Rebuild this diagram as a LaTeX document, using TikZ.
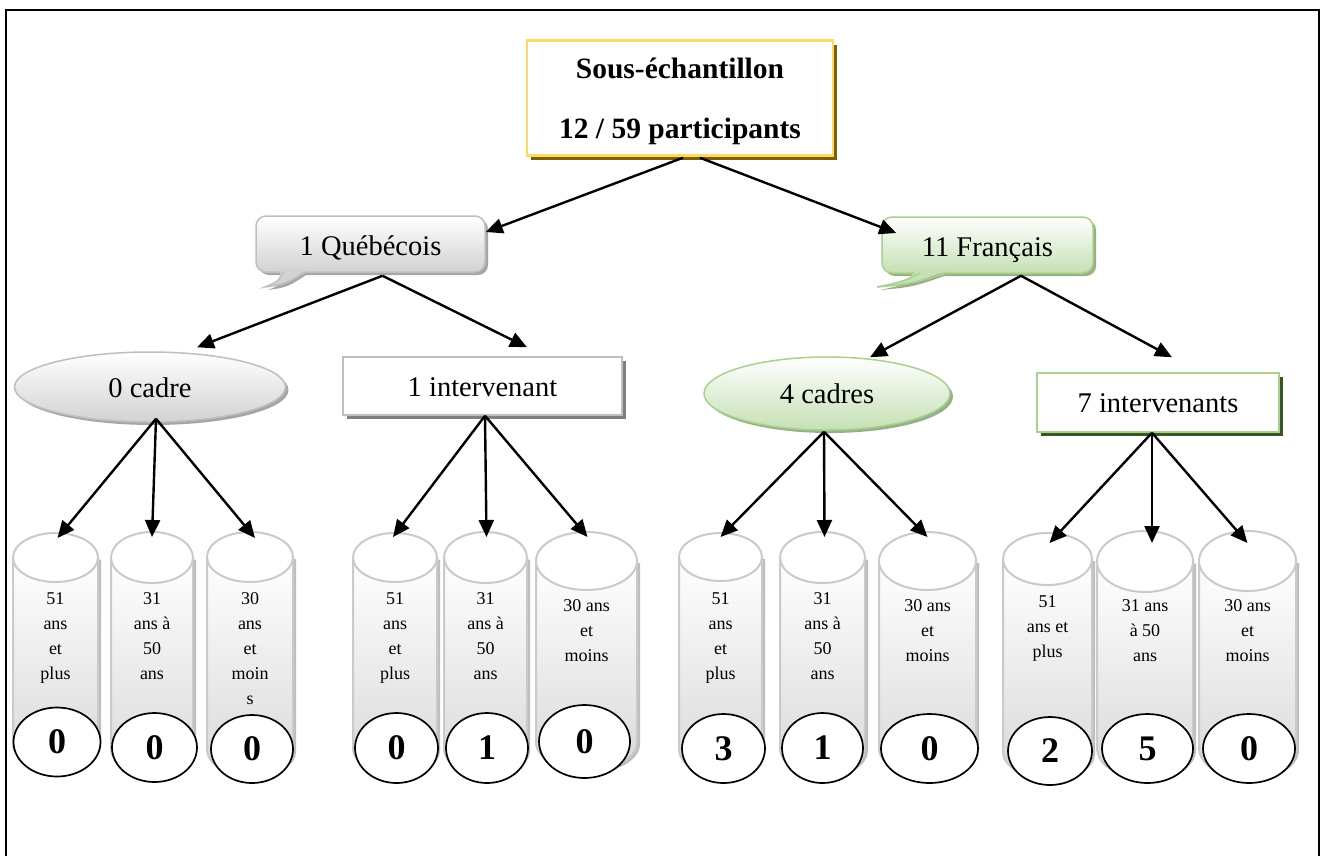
\documentclass[tikz,border=0pt]{standalone}
\usepackage{fontspec}
\setmainfont{Liberation Serif}
\usetikzlibrary{arrows.meta,shapes.geometric,shadows,calc}
\definecolor{grayborder}{HTML}{BFBFBF}
\definecolor{graybot}{HTML}{D2D2D2}
\definecolor{grayshadow}{HTML}{A6A6A6}
\definecolor{darkshadow}{HTML}{7F7F7F}
\definecolor{greenborder}{HTML}{A9D18E}
\definecolor{greenbot}{HTML}{C5E0B4}
\definecolor{greenshadow}{HTML}{98B087}
\definecolor{darkgreen}{HTML}{385723}
\definecolor{goldborder}{HTML}{FFD966}
\definecolor{goldshadow}{HTML}{7F6000}
\definecolor{cylborder}{HTML}{CACACA}
\definecolor{cylbot}{HTML}{D9D9D9}
\definecolor{cylshadow}{HTML}{BEBEBE}

\tikzset{
  lbl/.style={font=\fontsize{28.5}{34}\selectfont, text height=20pt, text depth=0pt},
  arr/.style={line width=2.4pt, -{Triangle[length=17pt,width=15pt]}},
  numnode/.style={ellipse, draw=black, line width=1.7pt, fill=white, inner sep=0pt,
    font=\bfseries\fontsize{36}{40}\selectfont},
  cyltext/.style={anchor=north, align=center, inner sep=0pt, font=\fontsize{18}{25}\selectfont},
  grayshade/.style={top color=white, bottom color=graybot, draw=grayborder, line width=1.5pt},
  greenshade/.style={top color=white, bottom color=greenbot, draw=greenborder, line width=1.5pt},
}

% name, left, right, top, top-ellipse bottom, body bottom
\newcommand\mycyl[6]{%
  \pgfmathsetmacro\cylcx{(#2+#3)/2}%
  \pgfmathsetmacro\cylrx{(#3-#2)/2}%
  \pgfmathsetmacro\cylcy{(#4+#5)/2}%
  \pgfmathsetmacro\cylry{(#5-#4)/2}%
  \fill[cylshadow, xshift=3pt, yshift=-2pt] (#2,\cylcy) -- (#2,#6)
     arc[start angle=180, end angle=0, x radius=\cylrx, y radius=\cylry] -- (#3,\cylcy) -- cycle;
  \shadedraw[top color=white, bottom color=cylbot, draw=cylborder, line width=2pt]
     (#2,\cylcy) -- (#2,#6)
     arc[start angle=180, end angle=0, x radius=\cylrx, y radius=\cylry] -- (#3,\cylcy) -- cycle;
  \filldraw[fill=white, draw=cylborder, line width=2pt] (\cylcx,\cylcy) ellipse [x radius=\cylrx, y radius=\cylry];
  \coordinate (#1) at (\cylcx,#4);
}

\begin{document}
\begin{tikzpicture}[x=1pt, y=-1pt]
\useasboundingbox (0,0) rectangle (1321,855);
\fill[white] (0,0) rectangle (1321,855);

% frame
\draw[line width=2pt] (6,856) -- (6,10) -- (1319,10) -- (1319,856);

% top box
\node[draw=goldborder, line width=2.5pt, fill=white, minimum width=306, minimum height=115,
      general shadow={fill=goldshadow, shadow xshift=4pt, shadow yshift=-4pt},
      align=center, font=\bfseries\fontsize{29.5}{60}\selectfont, text depth=0pt]
      (top) at (680,98) {Sous-échantillon\\12 / 59 participants};

% Quebecois bubble
\fill[grayshadow, xshift=3pt, yshift=-3pt] (283,270) .. controls (279,281) .. (265,287) .. controls (285,284) .. (306,270) -- cycle;
\node[grayshade, rounded corners=10pt, minimum width=229, minimum height=56,
      general shadow={fill=grayshadow, shadow xshift=3pt, shadow yshift=-3pt},
      lbl, text height=22pt]
      (queb) at (370.5,244) {1 Québécois};
\fill[graybot] (281,269) .. controls (279,281) .. (265,287) .. controls (285,284) .. (308,269) -- cycle;
\draw[grayborder, line width=1.5pt] (283,272) .. controls (279,281) .. (265,287) .. controls (285,284) .. (306,272);

% Francais bubble
\fill[greenshadow, xshift=3pt, yshift=-3pt] (920,271) .. controls (905,281) .. (877,287) .. controls (910,284) .. (947,271) -- cycle;
\node[greenshade, rounded corners=10pt, minimum width=211, minimum height=56,
      general shadow={fill=greenshadow, shadow xshift=3pt, shadow yshift=-3pt},
      lbl, text height=22pt]
      (fr) at (987.5,245) {11 Français};
\fill[greenbot] (918,270) .. controls (905,281) .. (877,287) .. controls (910,284) .. (949,270) -- cycle;
\draw[greenborder, line width=1.5pt] (920,273) .. controls (905,281) .. (877,287) .. controls (910,284) .. (947,273);

% second level
\node[ellipse, grayshade, minimum width=271, minimum height=70, inner sep=0pt,
      general shadow={fill=grayshadow, shadow xshift=3pt, shadow yshift=-3pt}, lbl]
      (cadre0) at (150,387) {0 cadre};
\node[rectangle, draw=grayborder, line width=1.5pt, fill=white, minimum width=279, minimum height=58,
      general shadow={fill=darkshadow, shadow xshift=4pt, shadow yshift=-4pt}, lbl]
      (int1) at (482.5,386) {1 intervenant};
\node[ellipse, greenshade, minimum width=246, minimum height=73, inner sep=0pt,
      general shadow={fill=greenshadow, shadow xshift=3pt, shadow yshift=-3pt}, lbl]
      (cadres4) at (827,393.5) {4 cadres};
\node[rectangle, draw=greenborder, line width=1.5pt, fill=white, minimum width=242, minimum height=59,
      general shadow={fill=darkgreen, shadow xshift=4pt, shadow yshift=-4pt}, lbl]
      (int7) at (1158,402.5) {7 intervenants};

% cylinders
\mycyl{c1}{13}{98}{533}{582}{744}
\mycyl{c2}{111}{193}{532}{583}{749}
\mycyl{c3}{207}{293}{532}{582}{750}
\mycyl{c4}{353}{437}{533}{582}{749}
\mycyl{c5}{444}{527}{532}{583}{749}
\mycyl{c6}{536}{637}{532}{590}{742}
\mycyl{c7}{679}{762}{533}{581}{750}
\mycyl{c8}{780}{865}{532}{583}{749}
\mycyl{c9}{879}{976}{532}{590}{748}
\mycyl{c10}{1003}{1092}{533}{585}{752}
\mycyl{c11}{1097}{1193}{531}{592}{748}
\mycyl{c12}{1199}{1296}{531}{591}{748}

% cylinder texts
\node[cyltext] (t1) at (55.5,592.8) {51\\ans\\et\\plus};
\node[cyltext] (t2) at (152,592.8) {31\\ans à\\50\\ans};
\node[cyltext] (t3) at (250,592.8) {30\\ans\\et\\moin\\s};
\node[cyltext] (t4) at (395,592.8) {51\\ans\\et\\plus};
\node[cyltext] (t5) at (485.5,592.8) {31\\ans à\\50\\ans};
\node[cyltext] (t6) at (586.5,599.8) {30 ans\\et\\moins};
\node[cyltext] (t7) at (720.5,592.8) {51\\ans\\et\\plus};
\node[cyltext] (t8) at (822.5,592.8) {31\\ans à\\50\\ans};
\node[cyltext] (t9) at (927.5,599.8) {30 ans\\et\\moins};
\node[cyltext] (t10) at (1047.5,595.8) {51\\ans et\\plus};
\node[cyltext] (t11) at (1145,599.8) {31 ans\\à 50\\ans};
\node[cyltext] (t12) at (1247.5,599.8) {30 ans\\et\\moins};

% number circles
\node[numnode, minimum width=87, minimum height=69] (n1) at (57,742) {0};
\node[numnode, minimum width=85, minimum height=69] (n2) at (154.5,747.5) {0};
\node[numnode, minimum width=82, minimum height=68] (n3) at (252,749) {0};
\node[numnode, minimum width=83, minimum height=70] (n4) at (396.5,748) {0};
\node[numnode, minimum width=82, minimum height=70] (n5) at (487,748) {1};
\node[numnode, minimum width=91, minimum height=73] (n6) at (584.5,741.5) {0};
\node[numnode, minimum width=83, minimum height=69] (n7) at (723.5,748.5) {3};
\node[numnode, minimum width=81, minimum height=70] (n8) at (822.5,748) {1};
\node[numnode, minimum width=97, minimum height=69] (n9) at (929.5,748.5) {0};
\node[numnode, minimum width=84, minimum height=68] (n10) at (1050,751) {2};
\node[numnode, minimum width=91, minimum height=69] (n11) at (1147.5,748.5) {5};
\node[numnode, minimum width=92, minimum height=69] (n12) at (1249,748.5) {0};

% split points
\coordinate (qs) at ($(queb.south)+(12,3)$);
\coordinate (fs) at ($(fr.south)+(33.5,2)$);
\coordinate (c0s) at ($(cadre0.south)+(6,-4)$);
\coordinate (i1s) at ($(int1.south)+(2.5,0)$);
\coordinate (c4s) at ($(cadres4.south)+(-3,1)$);
\coordinate (i7s) at ($(int7.south)+(-6,0)$);

% connectors
\draw[arr] ($(top.south)+(3,1)$) -- ($(queb.east)+(0,-12)$);
\draw[arr] ($(top.south)+(20,1)$) -- ($(fr.west)+(15,-12)$);
\draw[arr] (qs) -- ($(cadre0.north)+(47,-4)$);
\draw[arr] (qs) -- ($(int1.north)+(44.5,-9)$);
\draw[arr] (fs) -- ($(cadres4.north)+(43,1)$);
\draw[arr] (fs) -- ($(int7.north)+(14,-15)$);

\draw[arr] (c0s) -- ($(c1)+(2,5)$);
\draw[arr] (c0s) -- ($(c2)+(0,5)$);
\draw[arr] (c0s) -- ($(c3)+(5,6)$);
\draw[arr] (i1s) -- ($(c4)+(-2,4)$);
\draw[arr] (i1s) -- ($(c5)+(1,5)$);
\draw[arr] (i1s) -- ($(c6)+(1,5)$);
\draw[arr] (c4s) -- ($(c7)+(0,4)$);
\draw[arr] (c4s) -- ($(c8)+(2,5)$);
\draw[arr] (c4s) -- ($(c9)+(0,5)$);
\draw[arr] (i7s) -- ($(c10)+(2,10)$);
\draw[arr] (i7s) -- ($(c11)+(7,12)$);
\draw[arr] (i7s) -- ($(c12)+(0,12)$);
\end{tikzpicture}
\end{document}
